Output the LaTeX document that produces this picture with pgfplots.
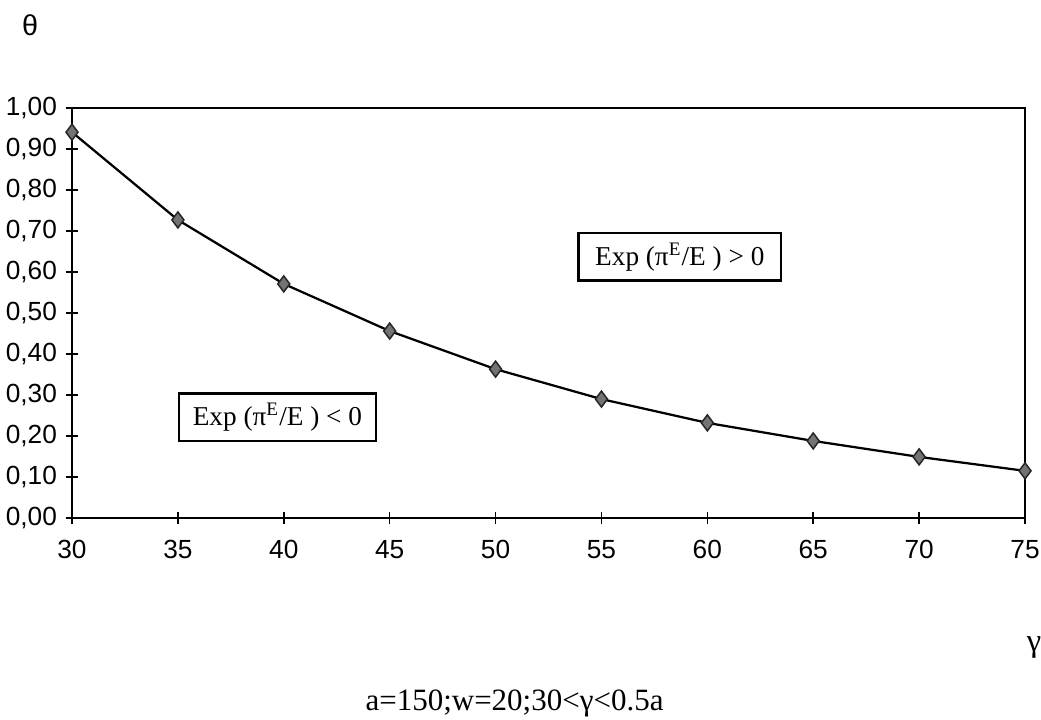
\documentclass[border=0pt]{standalone}
\usepackage{fontspec}
\setmainfont{Liberation Serif}
\setsansfont{Liberation Sans}
\usepackage{pgfplots}
\pgfplotsset{compat=1.18}

\begin{document}
\begin{tikzpicture}
% image px -> 0.4pt
\path[use as bounding box] (-28.8pt,-80.8pt) rectangle (387.6pt,207.2pt);
\begin{axis}[
    at={(0,0)}, anchor=south west,
    scale only axis,
    width=381.2pt, height=164pt,
    xmin=30, xmax=75, ymin=0, ymax=1,
    xtick={30,35,...,75},
    ytick={0,0.1,...,1.01},
    xtick pos=left, ytick pos=left,
    tick align=center,
    major tick length=5pt,
    axis line style={line width=0.9pt},
    tick style={line width=0.6pt, black},
    tick label style={font=\fontsize{10.5}{12}\selectfont\sffamily},
    /pgf/number format/assume math mode=true,
    yticklabel style={/pgf/number format/use comma, /pgf/number format/fixed,
        /pgf/number format/fixed zerofill, /pgf/number format/precision=2},
    xticklabel style={yshift=-3pt},
    clip=false,
]
\addplot[black, line width=0.9pt, mark=diamond*, mark size=3.2pt,
    mark options={fill=black!55, draw=black!85, line width=0.6pt}]
coordinates {
    (30,0.941) (35,0.727) (40,0.571) (45,0.456) (50,0.363)
    (55,0.290) (60,0.232) (65,0.188) (70,0.149) (75,0.115)
};
\node[draw, line width=0.9pt, fill=white, minimum width=81pt, minimum height=19pt,
      font=\fontsize{10.9}{12}\selectfont] at (axis cs:58.7,0.637)
      {Exp (π\textsuperscript{E}/E ) > 0};
\node[draw, line width=0.9pt, fill=white, minimum width=79pt, minimum height=19pt,
      font=\fontsize{10.9}{12}\selectfont] at (axis cs:39.7,0.246)
      {Exp (π\textsuperscript{E}/E ) < 0};
\end{axis}
\node[font=\fontsize{11.5}{13}\selectfont\sffamily] at (-16.8pt,197pt) {θ};
\node[font=\fontsize{13}{15}\selectfont] at (384.8pt,-52pt) {γ};
\node[font=\fontsize{12.4}{14}\selectfont] at (177pt,-74pt) {a=150;w=20;30<γ<0.5a};
\end{tikzpicture}
\end{document}
